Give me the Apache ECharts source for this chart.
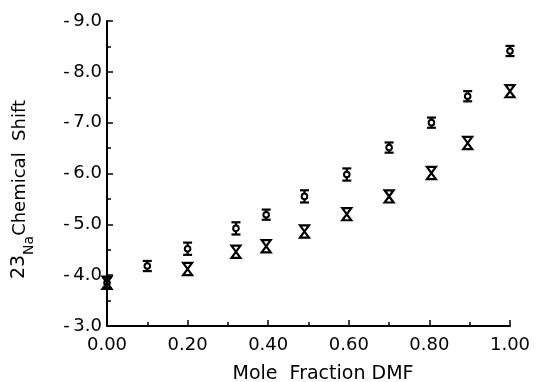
<!DOCTYPE html>
<html>
<head>
<meta charset="utf-8">
<script src="https://cdn.jsdelivr.net/npm/echarts@6/dist/echarts.min.js"></script>
<style>
  html, body { margin: 0; padding: 0; background: #fff; }
  #chart { width: 536px; height: 382px; }
</style>
</head>
<body>
<div id="chart"></div>
<script>
// mole fraction DMF
const xCircle = [0.00, 0.10, 0.20, 0.32, 0.395, 0.49, 0.595, 0.70, 0.805, 0.895, 1.00];
const yCircle = [-3.85, -4.18, -4.52, -4.92, -5.19, -5.55, -5.98, -6.51, -7.00, -7.52, -8.41];
const xCross = [0.00, 0.20, 0.32, 0.395, 0.49, 0.595, 0.70, 0.805, 0.895, 1.00];
const yCross = [-3.85, -4.12, -4.46, -4.57, -4.86, -5.20, -5.55, -6.01, -6.60, -7.62];
const errCircle = [0.1, 0.1, 0.12, 0.12, 0.1, 0.12, 0.12, 0.1, 0.1, 0.1, 0.1];
const errCross = [0.12, 0.12, 0.12, 0.12, 0.12, 0.12, 0.12, 0.12, 0.12, 0.12];

const FONT = 'DejaVu Sans';

function pts(xs, ys, es) {
  return xs.map((x, i) => [x, ys[i], es[i]]);
}

// error bar + marker drawn through the axis scales
function makeRender(kind) {
  return function (params, api) {
    const x = api.value(0), y = api.value(1), e = api.value(2);
    const top = api.coord([x, y - e]);
    const bot = api.coord([x, y + e]);
    const mid = api.coord([x, y]);
    const w = 4.5;
    const style = { stroke: '#000', lineWidth: 2.2, fill: 'none' };
    const children = [];
    if (kind === 'circle') {
      children.push(
        { type: 'line', shape: { x1: top[0], y1: top[1], x2: bot[0], y2: bot[1] }, style },
        { type: 'line', shape: { x1: top[0] - w, y1: top[1], x2: top[0] + w, y2: top[1] }, style },
        { type: 'line', shape: { x1: bot[0] - w, y1: bot[1], x2: bot[0] + w, y2: bot[1] }, style },
        { type: 'circle', shape: { cx: mid[0], cy: mid[1], r: 2.8 }, style: { stroke: '#000', lineWidth: 2, fill: '#fff' } }
      );
    } else {
      children.push({
        type: 'polygon',
        shape: { points: [[top[0] - w, top[1]], [top[0] + w, top[1]], [bot[0] - w, bot[1]], [bot[0] + w, bot[1]]] },
        style
      });
    }
    return { type: 'group', children };
  };
}

const chart = echarts.init(document.getElementById('chart'), null, { renderer: 'canvas' });
chart.setOption({
  backgroundColor: '#fff',
  animation: false,
  grid: { left: 107, right: 26, top: 21, bottom: 56, containLabel: false, outerBoundsMode: 'none' },
  xAxis: {
    type: 'value', min: 0, max: 1, interval: 0.2,
    axisLine: { lineStyle: { color: '#000', width: 2 } },
    axisTick: { inside: true, length: 6, lineStyle: { color: '#000', width: 1.5 } },
    minorTick: { show: true, splitNumber: 2, length: 4, lineStyle: { color: '#000', width: 1.5 } },
    splitLine: { show: false },
    axisLabel: {
      color: '#000', fontFamily: FONT, fontSize: 18, margin: 10,
      formatter: v => v.toFixed(2)
    },
    name: 'Mole  Fraction DMF', nameLocation: 'middle', nameGap: 39,
    nameTextStyle: { color: '#000', fontFamily: FONT, fontSize: 19, padding: [0, 0, 0, 29] }
  },
  yAxis: {
    type: 'value', min: -9, max: -3, interval: 1, inverse: true,
    axisLine: { lineStyle: { color: '#000', width: 2 } },
    axisTick: { inside: true, length: 6, lineStyle: { color: '#000', width: 1.5 } },
    minorTick: { show: true, splitNumber: 2, length: 4, lineStyle: { color: '#000', width: 1.5 } },
    splitLine: { show: false },
    axisLabel: {
      color: '#000', fontFamily: FONT, fontSize: 18, margin: 5,
      formatter: v => '-\u2009' + Math.abs(v).toFixed(1)
    }
  },
  graphic: [{
    type: 'text',
    left: 10, top: 100,
    rotation: Math.PI / 2,
    style: {
      text: '{a|23}{b|Na}{c|Chemical  Shift}',
      fill: '#000',
      rich: {
        a: { fontFamily: FONT, fontSize: 19, verticalAlign: 'bottom', padding: [0, 0, 7, 0] },
        b: { fontFamily: FONT, fontSize: 14, verticalAlign: 'bottom' },
        c: { fontFamily: FONT, fontSize: 18, verticalAlign: 'bottom', padding: [0, 0, 7, 0] }
      }
    }
  }],
  series: [
    { type: 'custom', renderItem: makeRender('circle'), data: pts(xCircle, yCircle, errCircle), z: 3 },
    { type: 'custom', renderItem: makeRender('cross'), data: pts(xCross, yCross, errCross), z: 4 }
  ]
});
</script>
</body>
</html>
